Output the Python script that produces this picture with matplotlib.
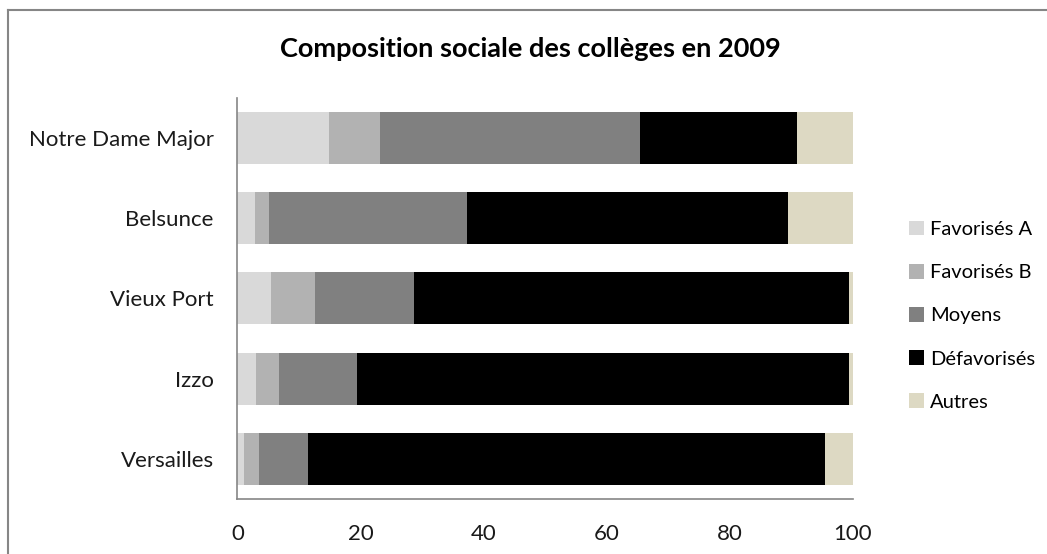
import matplotlib
matplotlib.use('Agg')
import matplotlib.pyplot as plt
import numpy as np
from matplotlib.patches import Patch

plt.rcParams['font.family'] = ['Lato', 'DejaVu Sans']

# Data (percent)
colleges = ['Versailles', 'Izzo', 'Vieux Port', 'Belsunce', 'Notre Dame Major']
categories = ['Favorisés A', 'Favorisés B', 'Moyens', 'Défavorisés', 'Autres']
favorises_a = [1.1, 3.0, 5.4, 2.9, 14.9]
favorises_b = [2.4, 3.7, 7.2, 2.3, 8.3]
moyens = [8.0, 12.7, 16.0, 32.1, 42.2]
defavorises = [84.0, 80.0, 70.8, 52.1, 25.5]
autres = [4.5, 0.6, 0.6, 10.6, 9.1]

colors = ['#D9D9D9', '#B2B2B2', '#808080', '#000000', '#DDD9C3']
series = [favorises_a, favorises_b, moyens, defavorises, autres]

fig = plt.figure(figsize=(10.47, 5.54), dpi=100)
ax = fig.add_axes([0.2268, 0.0993, 0.5879, 0.7244])

# chart area border (left and top visible)
fig.add_artist(plt.Line2D([8 / 1047, 8 / 1047], [0, 1 - 10 / 554],
                          color='#868686', linewidth=1.5, transform=fig.transFigure))
fig.add_artist(plt.Line2D([8 / 1047, 1], [1 - 10 / 554, 1 - 10 / 554],
                          color='#868686', linewidth=1.5, transform=fig.transFigure))

y = np.arange(len(colleges))
left = np.zeros(len(colleges))
for vals, col, name in zip(series, colors, categories):
    ax.barh(y, vals, left=left, height=0.65, color=col, label=name)
    left += np.array(vals)

ax.set_xlim(0, 100)
ax.set_ylim(-0.5, 4.5)
ax.set_xticks([0, 20, 40, 60, 80, 100])
ax.set_yticks(y)
ax.set_yticklabels(colleges)
ax.tick_params(length=0, colors='#1a1a1a')
ax.tick_params(axis='x', labelsize=16, pad=18)
ax.tick_params(axis='y', labelsize=16, pad=17)
for s in ['top', 'right']:
    ax.spines[s].set_visible(False)
for s in ['left', 'bottom']:
    ax.spines[s].set_color('#868686')
    ax.spines[s].set_linewidth(1.2)

fig.text(0.507, 0.912, 'Composition sociale des collèges en 2009',
         ha='center', va='center', fontsize=19.5, fontweight='bold')

handles = [Patch(facecolor=c, edgecolor='none') for c in colors]
fig.legend(handles, categories, loc='center left', bbox_to_anchor=(0.851, 0.43),
           frameon=False, fontsize=14.5, handlelength=0.75, handleheight=0.75,
           handletextpad=0.3, labelspacing=1.28)

plt.savefig('out.png', dpi=100)
